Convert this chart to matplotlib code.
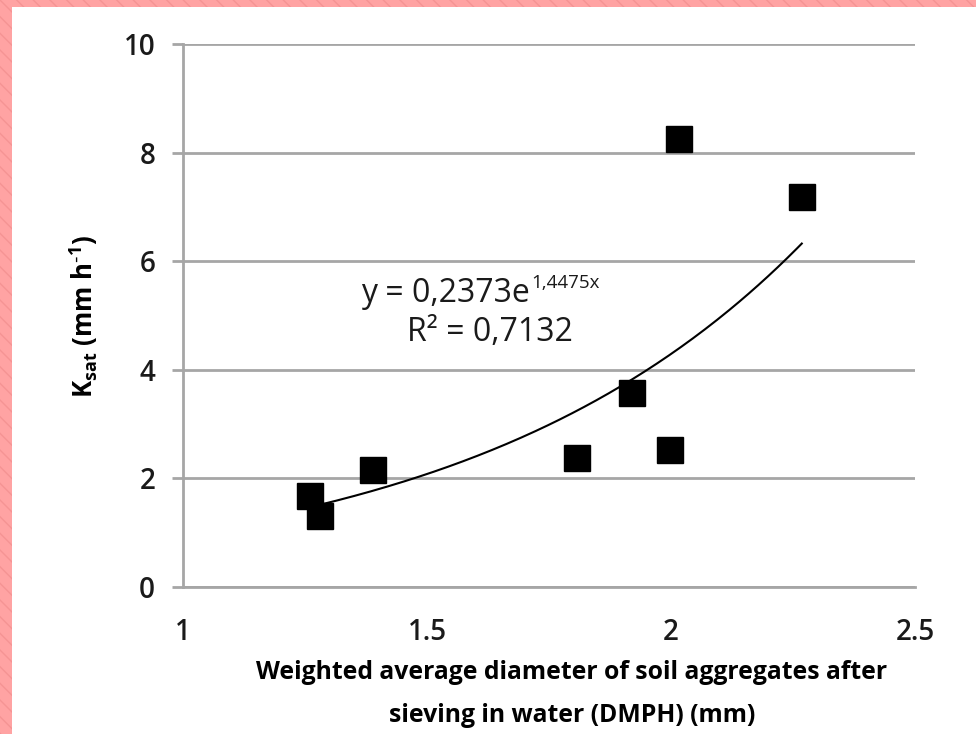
import numpy as np
import matplotlib.pyplot as plt
from matplotlib.patches import Rectangle

# data
dmph = [1.260, 1.281, 1.389, 1.808, 1.920, 1.998, 2.016, 2.268]
ksat = [1.67, 1.30, 2.15, 2.38, 3.57, 2.52, 8.25, 7.18]

# exponential trend line from the equation shown on the chart
a, b = 0.2373, 1.4475

fig = plt.figure(figsize=(9.76, 7.34), dpi=100)

# pink hatched frame (left and top)
for x0, y0, w, h in [(0, 0, 12/976, 1), (0, 1 - 7/734, 1, 7/734)]:
    fig.patches.append(Rectangle((x0, y0), w, h, transform=fig.transFigure,
                                 facecolor='#ffa3a3', edgecolor='#f59494',
                                 hatch='\\\\', linewidth=0, zorder=0))

ax = fig.add_axes([183/976, (734-587)/734, 732/976, 543/734])

ax.set_xlim(1, 2.5)
ax.set_ylim(0, 10)
ax.set_xticks([1, 1.5, 2, 2.5])
ax.set_xticklabels(['1', '1.5', '2', '2.5'])
ax.set_yticks([0, 2, 4, 6, 8, 10])

ax.grid(axis='y', color='#a6a6a6', linewidth=2)
ax.set_axisbelow(True)
for s in ['top', 'right']:
    ax.spines[s].set_visible(False)
for s in ['left', 'bottom']:
    ax.spines[s].set_color('#a6a6a6')
    ax.spines[s].set_linewidth(2)

ax.tick_params(axis='y', direction='out', length=8, width=2, color='#a6a6a6',
               pad=12, labelsize=20)
ax.tick_params(axis='x', length=0, pad=22, labelsize=20)
for lbl in ax.get_xticklabels() + ax.get_yticklabels():
    lbl.set_fontfamily('Open Sans')
    lbl.set_fontweight('semibold')
    lbl.set_color('#1a1a1a')

ax.plot(dmph, ksat, 's', color='black', markersize=18.5, zorder=3, clip_on=False)

xt = np.linspace(dmph[1], max(dmph), 200)
ax.plot(xt, a * np.exp(b * xt), color='black', linewidth=1.5, zorder=2)

eq = ax.text(1.365, 5.41, 'y = 0,2373e', fontsize=23, family='Open Sans',
             ha='left', va='center', color='#1a1a1a')
ax.annotate('1,4475x', xy=(1.0, 0.8), xycoords=eq, xytext=(1, 0),
            textcoords='offset points', fontsize=13.5, family='Open Sans',
            ha='left', va='center', color='#1a1a1a')
ax.text(1.629, 4.68, 'R² = 0,7132', fontsize=23, family='Open Sans',
        ha='center', va='center', color='#1a1a1a')

fig.text(572/976, 1 - 694/734,
         'Weighted average diameter of soil aggregates after\nsieving in water (DMPH) (mm)',
         ha='center', va='center', fontsize=17.8, fontweight='bold',
         family='Open Sans', linespacing=1.95)
fig.text(84/976, 1 - 317/734,
         r'K$_{\mathregular{sat}}$ (mm h$^{\mathregular{\text{-}1}}$)',
         rotation=90, ha='center', va='center', fontsize=18.5, fontweight='bold',
         family='Open Sans')

fig.savefig('out.png', dpi=100)
